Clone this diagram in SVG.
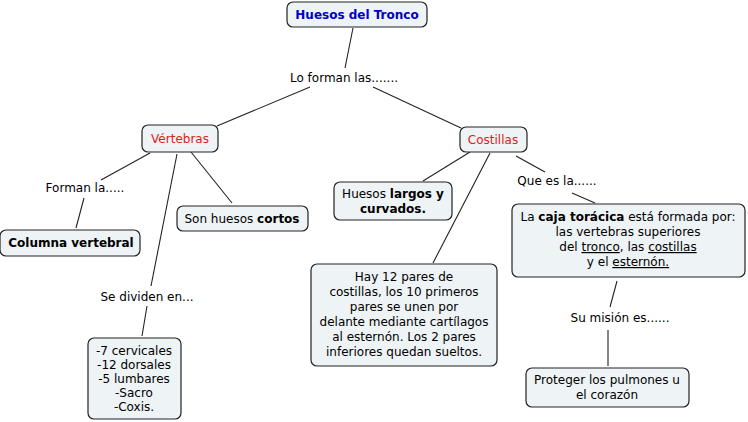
<svg xmlns="http://www.w3.org/2000/svg" width="748" height="422" viewBox="0 0 748 422">
<style>
text{font-family:"DejaVu Sans",Verdana,sans-serif;font-size:12px;fill:#000;text-anchor:middle}
.b{font-weight:bold}
.red{fill:#e0201b}
.blue{fill:#0000cc;font-weight:bold}
.u{text-decoration:underline}
rect{fill:#eef3f5;stroke:#222;stroke-width:1.2}
.c line{stroke:#222;stroke-width:1.1}
</style>
<rect x="0" y="0" width="748" height="422" style="fill:#fff;stroke:none"/>
<g class="c" id="connectors">
<line x1="353" y1="28" x2="345" y2="68"/>
<line x1="310" y1="87" x2="217" y2="126"/>
<line x1="373" y1="87" x2="461" y2="128"/>
<line x1="150" y1="153" x2="101" y2="180"/>
<line x1="84" y1="198" x2="76" y2="228"/>
<line x1="191" y1="152" x2="232" y2="203"/>
<line x1="177" y1="154" x2="151" y2="286"/>
<line x1="147" y1="306" x2="142" y2="336"/>
<line x1="470" y1="152" x2="423" y2="181"/>
<line x1="490" y1="153" x2="433" y2="263"/>
<line x1="516" y1="156" x2="545" y2="172"/>
<line x1="572" y1="193" x2="595" y2="203"/>
<line x1="617" y1="281" x2="610" y2="307"/>
<line x1="608" y1="330" x2="608" y2="366"/>
</g>
<g id="n-tronco"><rect x="287" y="2" width="140" height="25" rx="6"/><text x="357" y="19" class="blue">Huesos del Tronco</text></g>
<g id="l-forman"><text x="344" y="82">Lo forman las.......</text></g>
<g id="n-vertebras"><rect x="142" y="125" width="76" height="27" rx="6"/><text x="180" y="143" class="red">Vértebras</text></g>
<g id="n-costillas"><rect x="460" y="127" width="67" height="25" rx="6"/><text x="493" y="144" class="red">Costillas</text></g>
<g id="l-formanla"><text x="85" y="192">Forman la.....</text></g>
<g id="n-columna"><rect x="0" y="230" width="140" height="26" rx="6"/><text x="71" y="247" class="b">Columna vertebral</text></g>
<g id="n-cortos"><rect x="177" y="206" width="131" height="25" rx="6"/><text x="242" y="223">Son huesos <tspan class="b">cortos</tspan></text></g>
<g id="l-dividen"><text x="147" y="301">Se dividen en...</text></g>
<g id="n-partes"><rect x="88" y="338" width="93" height="81" rx="6"/>
<text x="134" y="355">-7 cervicales</text><text x="134" y="369">-12 dorsales</text><text x="134" y="383">-5 lumbares</text><text x="134" y="397">-Sacro</text><text x="134" y="411">-Coxis.</text></g>
<g id="n-largos"><rect x="334" y="182" width="118" height="38" rx="6"/><text x="393" y="198">Huesos <tspan class="b">largos y</tspan></text><text x="393" y="213" class="b">curvados.</text></g>
<g id="n-pares"><rect x="311" y="264" width="186" height="102" rx="6"/>
<text x="404" y="281">Hay 12 pares de</text><text x="404" y="296">costillas, los 10 primeros</text><text x="404" y="311">pares se unen por</text><text x="404" y="326">delante mediante cartílagos</text><text x="404" y="341">al esternón. Los 2 pares</text><text x="404" y="356">inferiores quedan sueltos.</text></g>
<g id="l-quees"><text x="557" y="185">Que es la......</text></g>
<g id="n-caja"><rect x="512" y="204" width="233" height="73" rx="6"/>
<text x="628" y="221">La <tspan class="b">caja torácica</tspan> está formada por:</text>
<text x="628" y="236">las vertebras superiores</text>
<text x="628" y="251">del <tspan class="u">tronco</tspan>, las <tspan class="u">costillas</tspan></text>
<text x="628" y="266">y el <tspan class="u">esternón.</tspan></text></g>
<g id="l-mision"><text x="620" y="322">Su misión es......</text></g>
<g id="n-proteger"><rect x="526" y="368" width="163" height="39" rx="6"/><text x="607" y="384">Proteger los pulmones u</text><text x="607" y="399">el corazón</text></g>
</svg>
